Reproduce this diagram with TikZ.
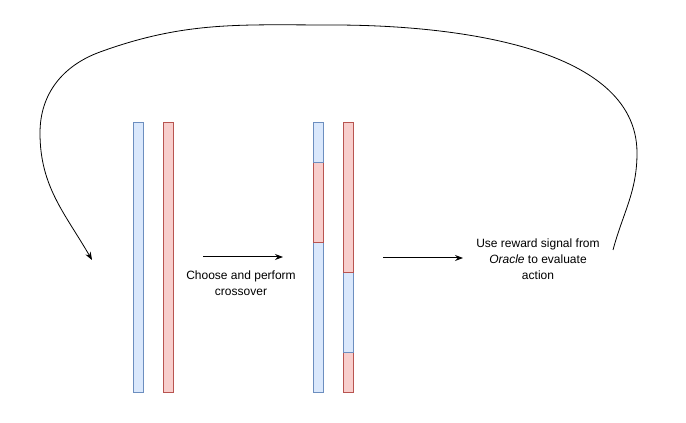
\documentclass[tikz,border=0pt]{standalone}
\usepackage{fontspec}
\setmainfont{Liberation Sans}
\usetikzlibrary{arrows.meta}

\definecolor{blueFill}{HTML}{DAE8FC}
\definecolor{blueLine}{HTML}{6C8EBF}
\definecolor{redFill}{HTML}{F8CECC}
\definecolor{redLine}{HTML}{B85450}

\tikzset{
    bluebar/.style={draw=blueLine, fill=blueFill, line width=1pt, inner sep=0pt, minimum width=10pt},
    redbar/.style={draw=redLine, fill=redFill, line width=1pt, inner sep=0pt, minimum width=10pt},
    flow/.style={-{Stealth[length=8pt,width=6pt]}, line width=1pt},
    label/.style={align=center, font={\fontsize{12}{16}\selectfont}}
}

\begin{document}
\begin{tikzpicture}[x=1pt, y=1pt]
        \useasboundingbox (0,0) rectangle (686,423);
        % parents
        \node[bluebar, minimum height=270pt] (parA) at (138,165) {};
        \node[redbar, minimum height=270pt] (parB) at (168,165) {};
        % offspring
        \node[bluebar, minimum height=150pt] (offAa) at (318,105) {};
        \node[redbar, minimum height=80pt] (offAb) at (318,220) {};
        \node[bluebar, minimum height=40pt] (offAc) at (318,280) {};
        \node[redbar, minimum height=40pt] (offBa) at (348,50) {};
        \node[bluebar, minimum height=80pt] (offBb) at (348,110) {};
        \node[redbar, minimum height=150pt] (offBc) at (348,225) {};
        % arrows and texts
        \coordinate (crossS) at (203,166);
        \coordinate (crossE) at (283,166);
        \coordinate (evalS) at (383,165);
        \coordinate (evalE) at (463,165);
        \draw[flow] (crossS) -- (crossE);
        \draw[flow] (evalS) -- (evalE);
        \node[label] (cross) at (241,140) {Choose and perform\\crossover};
        \node[label] (reward) at (538,164) {Use reward signal from\\\textit{Oracle} to evaluate\\action};
        % loop back
        \coordinate (loopS) at (613,173);
        \coordinate (loopE) at (92,163);
        \draw[-{Stealth[length=8pt,width=6pt]}, line width=0.8pt] (loopS)
            to[out=75, in=-90] (637,270)
            to[out=90, in=0, looseness=0.85] (333,398)
            to[out=180, in=20] (100,371)
            to[out=200, in=90] (40,290)
            to[out=-90, in=120] (loopE);
    \end{tikzpicture}
\end{document}
